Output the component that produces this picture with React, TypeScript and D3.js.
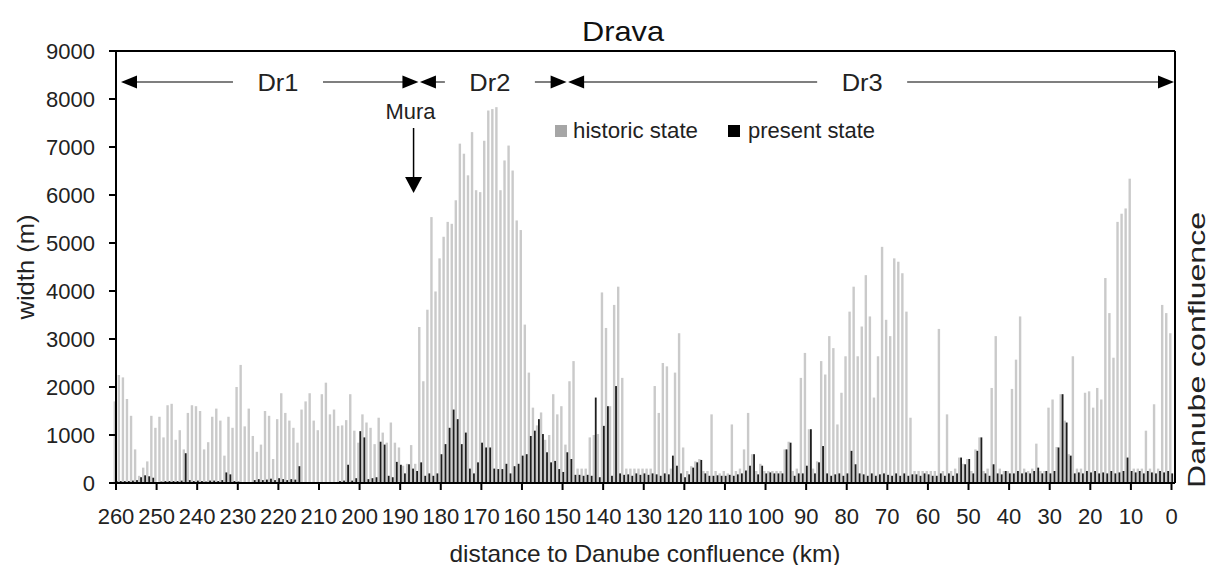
import React from "react";
import * as d3 from "d3";

// km positions, 260 (upstream) to 0 (Danube confluence), 1 km step
const kms: number[] = d3.range(260, -1, -1);

// historic channel width (m), km 260 -> 0
const historic: number[] = [
  1700, 2250, 2200, 1750, 1400, 700, 150, 320, 450, 1400,
  1150, 1380, 950, 1620, 1650, 900, 1100, 700, 1460, 1620,
  1600, 1500, 700, 850, 1380, 1550, 1300, 570, 1380, 1150,
  2000, 2460, 1180, 1550, 980, 650, 800, 1500, 1400, 500,
  1330, 1870, 1460, 1300, 1150, 840, 1530, 1700, 1870, 1300,
  1100, 1850, 2090, 1430, 1530, 1190, 1200, 1310, 1850, 1090,
  840, 1430, 1260, 1150, 810, 1360, 1050, 840, 1260, 840,
  740, 360, 400, 790, 400, 3250, 2120, 3610, 5540, 3990,
  4680, 5130, 5440, 5400, 5890, 7070, 6860, 6410, 7310, 6100,
  6060, 7130, 7760, 7790, 7830, 6100, 6720, 7030, 6510, 5470,
  5270, 3300, 2300, 1570, 1200, 1470, 900, 1000, 1850, 1430,
  1600, 800, 2120, 2540, 300, 300, 300, 950, 1000, 1020,
  3970, 3230, 1600, 3710, 4090, 2190, 300, 300, 300, 300,
  300, 300, 300, 2020, 1460, 2500, 2430, 300, 2300, 3120,
  740, 250, 350, 450, 500, 250, 250, 1430, 250, 200,
  250, 200, 1220, 250, 300, 700, 1460, 600, 250, 400,
  250, 250, 250, 250, 250, 700, 860, 250, 300, 2190,
  2710, 1120, 300, 450, 2540, 2260, 3060, 2810, 1220, 1880,
  2640, 3570, 4090, 2640, 3260, 4330, 3470, 1780, 2640, 4920,
  3400, 3060, 4680, 4610, 4370, 3570, 1360, 250, 250, 250,
  250, 250, 250, 3210, 250, 1430, 250, 300, 530, 400,
  500, 250, 700, 950, 250, 300, 1980, 3060, 300, 250,
  250, 1960, 2570, 3470, 300, 250, 300, 820, 250, 250,
  1570, 1740, 750, 1850, 1300, 600, 2640, 300, 300, 1880,
  1910, 1570, 1980, 1740, 4270, 3540, 2610, 5440, 5610, 5720,
  6340, 300, 300, 300, 1090, 300, 1640, 300, 3710, 3540,
  3120,
];

// present channel width (m), km 260 -> 0
const present: number[] = [
  40, 40, 40, 40, 50, 60, 120, 160, 140, 110,
  20, 30, 40, 40, 40, 40, 50, 620, 60, 40,
  50, 40, 30, 50, 50, 40, 60, 220, 180, 40,
  30, 20, 20, 20, 60, 80, 60, 70, 90, 60,
  100, 80, 60, 80, 70, 350, 20, 10, 10, 10,
  10, 10, 10, 10, 20, 40, 50, 380, 50, 100,
  1080, 950, 80, 100, 120, 860, 800, 150, 120, 440,
  380, 200, 390, 300, 250, 430, 150, 200, 150, 200,
  600, 810, 1150, 1530, 1330, 810, 1050, 300, 200, 430,
  840, 740, 740, 300, 290, 290, 400, 200, 350, 400,
  570, 600, 980, 1090, 1330, 1020, 640, 430, 460, 290,
  230, 640, 500, 170, 170, 150, 170, 150, 1780, 120,
  1190, 1600, 150, 2020, 200, 170, 180, 150, 200, 170,
  200, 170, 200, 180, 150, 200, 180, 570, 360, 200,
  120, 180, 320, 430, 480, 200, 150, 150, 160, 150,
  150, 170, 150, 180, 200, 260, 360, 600, 180, 360,
  200, 220, 200, 200, 200, 700, 840, 150, 200, 200,
  360, 1120, 200, 430, 770, 200, 150, 180, 200, 150,
  200, 670, 390, 200, 180, 150, 200, 150, 180, 200,
  170, 150, 200, 150, 200, 150, 180, 180, 150, 200,
  180, 150, 150, 200, 150, 200, 150, 200, 530, 390,
  500, 200, 670, 950, 200, 150, 390, 200, 180, 250,
  200, 200, 250, 200, 220, 200, 250, 320, 200, 250,
  200, 250, 740, 1850, 1260, 570, 200, 220, 200, 250,
  220, 250, 200, 220, 200, 250, 200, 220, 250, 530,
  250, 220, 250, 200, 250, 220, 200, 250, 220, 250,
  200,
];

const yTicks: number[] = [0, 1000, 2000, 3000, 4000, 5000, 6000, 7000, 8000, 9000];
const xTicks: number[] = [260, 250, 240, 230, 220, 210, 200, 190, 180, 170, 160, 150, 140, 130, 120, 110, 100, 90, 80, 70, 60, 50, 40, 30, 20, 10, 0];

// reach boundaries (km) and labels
const reachBounds: number[] = [260, 185.5, 149, 0];
const reachLabels: string[] = ["Dr1", "Dr2", "Dr3"];
const reachLabelKm: number[] = [220.1, 167.9, 76.2];
const muraKm = 186.7;

const FONT = "'Liberation Sans', Arial, sans-serif";

export default function App() {
  const W = 1210;
  const H = 565;
  const left = 116;
  const right = 1175;
  const top = 51;
  const bottom = 483;

  const x = d3.scaleLinear().domain([260, 0]).range([left, 1171.5]);
  const y = d3.scaleLinear().domain([0, 9000]).range([bottom, top]);
  const gw = 2.4;
  const bw = 1.8;

  const rowY = 82;
  const head = (tipX: number, dir: number, yy: number) => {
    const bx = tipX - dir * 16;
    return `M${tipX},${yy} L${bx},${yy - 6.5} L${bx},${yy + 6.5} Z`;
  };

  const segs: { x1: number; x2: number }[] = [];
  const heads: string[] = [];
  reachLabels.forEach((_, i) => {
    const a = i === 0 ? x(reachBounds[i]) + 5 : x(reachBounds[i]) + 1.5;
    const b = i === reachLabels.length - 1 ? x(reachBounds[i + 1]) + 2.5 : x(reachBounds[i + 1]);
    const c = x(reachLabelKm[i]);
    heads.push(head(a, -1, rowY));
    heads.push(head(b, 1, rowY));
    segs.push({ x1: a + 14, x2: c - 45 });
    segs.push({ x1: c + 45, x2: b - 14 });
  });

  const mx = x(muraKm);

  return (
    <svg width={W} height={H} style={{ display: "block", position: "absolute", left: 0, top: 0, background: "#fff" }} fontFamily={FONT}>
      <rect x={0} y={0} width={W} height={H} fill="#fff" />
      {/* bars */}
      <g>
        {kms.map((k, i) => (
          <rect key={"h" + k} x={x(k) - gw} y={y(historic[i])} width={gw} height={bottom - y(historic[i])} fill="#cacaca" />
        ))}
        {kms.map((k, i) => (
          <rect key={"p" + k} x={x(k) - 0.2} y={y(present[i])} width={bw} height={bottom - y(present[i])} fill="#1e1e1e" />
        ))}
      </g>
      {/* frame */}
      <line x1={left} x2={right} y1={top} y2={top} stroke="#000" strokeWidth={2} />
      <line x1={right} x2={right} y1={top} y2={bottom} stroke="#000" strokeWidth={2} />
      <line x1={left} x2={left} y1={top} y2={bottom} stroke="#000" strokeWidth={2} />
      <line x1={left} x2={right} y1={bottom} y2={bottom} stroke="#000" strokeWidth={2} />
      {/* y axis */}
      {yTicks.map((t) => (
        <g key={"y" + t}>
          <line x1={left - 7} x2={left} y1={y(t)} y2={y(t)} stroke="#000" strokeWidth={2} />
          <text x={95} y={y(t)} textAnchor="end" dominantBaseline="central" fontSize={22} fill="#222">
            {t}
          </text>
        </g>
      ))}
      {/* x axis */}
      {xTicks.map((t) => (
        <g key={"x" + t}>
          <line x1={x(t)} x2={x(t)} y1={bottom} y2={bottom + 7} stroke="#000" strokeWidth={2} />
          <text x={x(t)} y={516} textAnchor="middle" dominantBaseline="central" fontSize={22} fill="#222">
            {t}
          </text>
        </g>
      ))}
      {/* titles */}
      <text x={623} y={31} textAnchor="middle" dominantBaseline="central" fontSize={28} fill="#111" textLength={82} lengthAdjust="spacingAndGlyphs">
        Drava
      </text>
      <text x={645} y={553} textAnchor="middle" dominantBaseline="central" fontSize={24} fill="#222" textLength={391} lengthAdjust="spacingAndGlyphs">
        distance to Danube confluence (km)
      </text>
      <text transform="translate(25,267) rotate(-90)" textAnchor="middle" dominantBaseline="central" fontSize={24} fill="#222" textLength={105} lengthAdjust="spacingAndGlyphs">
        width (m)
      </text>
      <text transform="translate(1196,350) rotate(-90)" textAnchor="middle" dominantBaseline="central" fontSize={24} fill="#222" textLength={276} lengthAdjust="spacingAndGlyphs">
        Danube confluence
      </text>
      {/* reaches */}
      {segs.map((s, i) => (
        <line key={"s" + i} x1={s.x1} x2={s.x2} y1={rowY} y2={rowY} stroke="#555" strokeWidth={1.5} />
      ))}
      {heads.map((d, i) => (
        <path key={"hd" + i} d={d} fill="#000" />
      ))}
      {reachLabels.map((l, i) => (
        <text key={l} x={x(reachLabelKm[i])} y={rowY} textAnchor="middle" dominantBaseline="central" fontSize={24} fill="#222" textLength={41} lengthAdjust="spacingAndGlyphs">
          {l}
        </text>
      ))}
      {/* Mura */}
      <text x={mx - 3} y={111} textAnchor="middle" dominantBaseline="central" fontSize={22} fill="#222" textLength={50} lengthAdjust="spacingAndGlyphs">
        Mura
      </text>
      <line x1={mx} x2={mx} y1={128} y2={180} stroke="#000" strokeWidth={1.5} />
      <path d={`M${mx - 8.5},${177} L${mx + 8.5},${177} L${mx},${193} Z`} fill="#000" />
      {/* legend */}
      <rect x={555} y={125} width={12} height={12} fill="#a6a6a6" />
      <text x={573} y={131} dominantBaseline="central" fontSize={21.5} fill="#222" textLength={125} lengthAdjust="spacingAndGlyphs">
        historic state
      </text>
      <rect x={728} y={125} width={12} height={12} fill="#000" />
      <text x={748} y={131} dominantBaseline="central" fontSize={21.5} fill="#222" textLength={127} lengthAdjust="spacingAndGlyphs">
        present state
      </text>
    </svg>
  );
}
